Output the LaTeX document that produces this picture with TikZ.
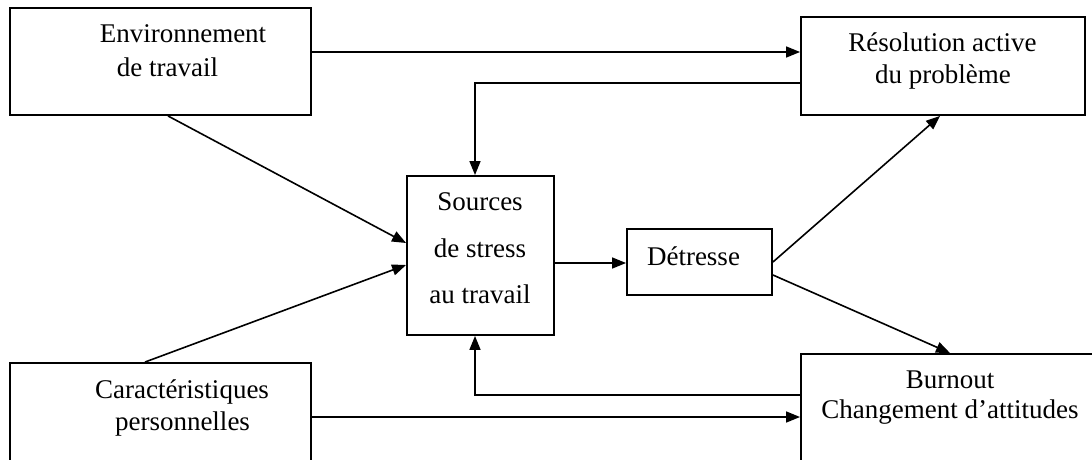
\documentclass[tikz,border=0pt]{standalone}
\usepackage{fontspec}
\setmainfont{Liberation Serif}
\usetikzlibrary{arrows.meta,calc}
\begin{document}
\begin{tikzpicture}[x=1pt,y=-1pt,
  box/.style={draw=black,line width=1.9pt,rectangle,inner sep=0pt,fill=white},
  lbl/.style={anchor=base,inner sep=0pt,font=\fontsize{27}{32}\selectfont},
  arr/.style={line width=1.6pt,-{Triangle[length=14pt,width=11pt]}}]
\useasboundingbox (0,0) rectangle (1092,460);
\fill[white] (0,0) rectangle (1092,460);
\clip (0,0) rectangle (1092,460);

% boxes
\node[box,minimum width=301pt,minimum height=107pt] (env) at (160.5,61.5) {};
\node[box,minimum width=284pt,minimum height=98pt] (res) at (943,66) {};
\node[box,minimum width=147pt,minimum height=159pt] (src) at (480.5,255.5) {};
\node[box,minimum width=145pt,minimum height=66pt] (det) at (699.5,262) {};
\node[box,minimum width=301pt,minimum height=130pt] (car) at (160.5,428) {};
\node[box,minimum width=310pt,minimum height=130pt] (bur) at (956,419) {};

% labels
\node[lbl] (env1) at (183,43) {Environnement};
\node[lbl] (env2) at (167.5,77) {de travail};
\node[lbl] (res1) at (942.5,52) {Résolution active};
\node[lbl] (res2) at (943,83) {du problème};
\node[lbl] (src1) at (480,210) {Sources};
\node[lbl] (src2) at (480,257) {de stress};
\node[lbl] (src3) at (480,303) {au travail};
\node[lbl] (det1) at (693.5,265) {Détresse};
\node[lbl] (car1) at (182,398) {Caractéristiques};
\node[lbl] (car2) at (182.5,430) {personnelles};
\node[lbl] (bur1) at (950,388) {Burnout};
\node[lbl] (bur2) at (950,418) {Changement d’attitudes};

% connectors
\draw[arr] (env.east |- 0,52) -- (res.west |- 0,52);
\draw[arr] (res.west |- 0,83) -| ($(src.north)+(-5.5,0)$);
\draw[arr] ($(env.south)+(7.5,0)$) -- (src.west |- 0,243);
\draw[arr] ($(car.north)+(-15.5,0)$) -- (src.west |- 0,265);
\draw[arr] (src.east |- 0,263) -- (det.west |- 0,263);
\draw[arr] (det.east |- 0,262) -- ($(res.south)+(-3,0)$);
\draw[arr] (det.east |- 0,275) -- (bur.north -| 950,0);
\draw[arr] (car.east |- 0,417) -- (bur.west |- 0,417);
\draw[arr] (bur.west |- 0,395) -| ($(src.south)+(-5.5,0)$);
\end{tikzpicture}
\end{document}
